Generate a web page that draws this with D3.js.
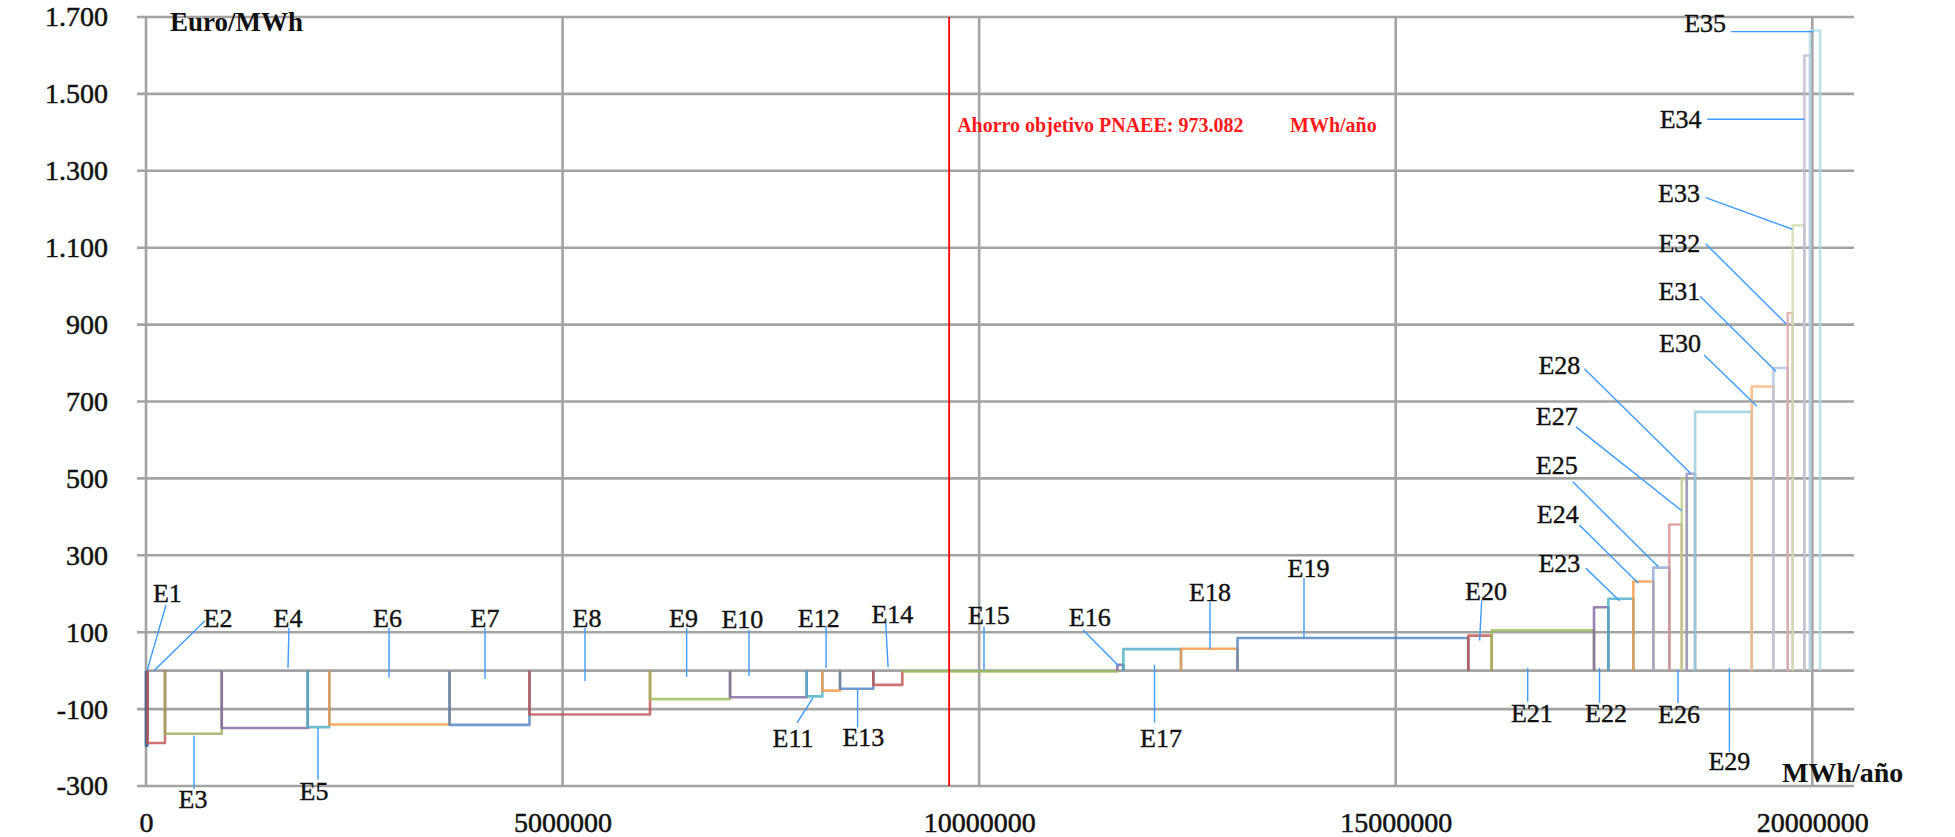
<!DOCTYPE html>
<html><head><meta charset="utf-8">
<script src="https://cdn.jsdelivr.net/npm/d3@7"></script>
<style>body{margin:0;background:#fff;overflow:hidden} svg{display:block}</style>
</head><body><svg id="c" width="1955" height="837"></svg>
<script>
// ---------- data ----------
const labels = ["E1","E2","E3","E4","E5","E6","E7","E8","E9","E10","E11","E12","E13","E14","E15","E16","E17","E18","E19","E20","E21","E22","E23","E24","E25","E26","E27","E28","E29","E30","E31","E32","E33","E34","E35"];
// ahorro (MWh/año) de cada medida = ancho del escalón
const savings = [18000,210000,681000,1032000,259000,1443000,960000,1446500,960500,920000,188000,212000,400000,348000,2581000,72000,692000,678000,2770000,281000,1228000,172000,300000,240000,192000,149000,60000,100000,680000,260000,172000,60000,140000,68000,120000];
// coste (Euro/MWh) = altura del escalón
const costs = [-195,-188,-164,-149,-147,-140,-141,-114,-74,-69,-67,-52,-47,-37,-2,15,56,57,85,91,105,165,187,232,268,380,498,512,673,739,787,930,1158,1600,1665];
const colors = ["#2C5A93","#C0504D","#9BAA59","#8064A2","#4BACC6","#F79646",
                "#4F81BD","#C0504D","#9BBB59","#8064A2","#4BACC6","#F79646",
                "#4F81BD","#C0504D","#9BBB59","#8064A2","#4BACC6","#F79646",
                "#4F81BD","#C0504D","#9BBB59","#8064A2","#4BACC6","#F79646",
                "#8EA6D4","#D98F8D","#B9CF8A","#9A8FBF","#93CDDD","#F9B27A",
                "#B0C2E2","#DFA7A6","#CFDFB0","#C2B6D6","#AED8E3"];
const yTicks = [1700,1500,1300,1100,900,700,500,300,100,-100,-300];
const yTickLabels = ["1.700","1.500","1.300","1.100","900","700","500","300","100","-100","-300"];
const xTicks = [0,5000000,10000000,15000000,20000000];
const xTickLabels = ["0","5000000","10000000","15000000","20000000"];
const target = 9640000;
const targetText = "Ahorro objetivo PNAEE: 973.082";
const targetUnit = "MWh/año";
const yTitle = "Euro/MWh";
const xTitle = "MWh/año";
// etiquetas: [texto, xEtiqueta, yEtiqueta, xInicio, yInicio, xAncla, yAncla] (unidades de datos)
const annotations = [
 ["E1",257000,203,240000,171,16000,2],
 ["E2",864000,137,708000,130,96000,0],
 ["E3",564000,-333,576000,-308,576000,-169],
 ["E4",1704000,137,1716000,111,1704000,7],
 ["E5",2016000,-313,2064000,-284,2064000,-149],
 ["E6",2899000,137,2917000,111,2917000,-18],
 ["E7",4069000,137,4069000,111,4069000,-22],
 ["E8",5293000,137,5269000,111,5269000,-27],
 ["E9",6452000,137,6489000,111,6489000,-16],
 ["E10",7158000,134,7237000,105,7237000,-14],
 ["E11",7766000,-175,7814000,-136,8006000,-70],
 ["E12",8075000,138,8163000,116,8163000,7],
 ["E13",8611000,-173,8541000,-147,8541000,-50],
 ["E14",8959000,147,8879000,124,8907000,9],
 ["E15",10117000,145,10058000,114,10058000,2],
 ["E16",11327000,140,11247000,106,11676000,12],
 ["E17",12183000,-176,12105000,-135,12105000,15],
 ["E18",12771000,205,12771000,179,12771000,56],
 ["E19",13953000,267,13899000,241,13899000,85],
 ["E20",16084000,207,16032000,183,16007000,78],
 ["E21",16634000,-110,16584000,-81,16584000,7],
 ["E22",17524000,-111,17446000,-84,17446000,7],
 ["E23",16964000,279,17284000,266,17686000,182],
 ["E24",16945000,407,17204000,379,17912000,227],
 ["E25",16933000,534,17125000,491,18152000,270],
 ["E26",18400000,-113,18388000,-84,18388000,2],
 ["E27",16933000,662,17164000,634,18433000,416],
 ["E28",16964000,795,17264000,785,18541000,513],
 ["E29",19005000,-236,19005000,-211,19005000,7],
 ["E30",18412000,852,18701000,821,19333000,688],
 ["E31",18404000,987,18653000,974,19565000,778],
 ["E32",18404000,1112,18721000,1110,19685000,902],
 ["E33",18400000,1242,18721000,1230,19761000,1148],
 ["E34",18420000,1435,18740000,1434,19905000,1434],
 ["E35",18713000,1684,19022000,1662,20014000,1662]
];

// ---------- layout ----------
const svg = d3.select("#c");
const x = d3.scaleLinear().domain([0, 20000000]).range([146, 1812.3]);
const y = d3.scaleLinear().domain([-300, 1700]).range([786, 17]);
const gridLeft = 137, gridRight = 1854;
const serif = "'Liberation Serif','DejaVu Serif',serif";
const gridColor = "#a3a3a3";

// horizontal gridlines (+ zero line)
svg.append("g").selectAll("line").data(yTicks.concat([0])).join("line")
  .attr("x1", d => d === 0 ? x(0) : gridLeft).attr("x2", gridRight)
  .attr("y1", d => y(d)).attr("y2", d => y(d))
  .attr("stroke", gridColor).attr("stroke-width", 2.6);
// vertical gridlines
svg.append("g").selectAll("line").data(xTicks).join("line")
  .attr("x1", d => x(d)).attr("x2", d => x(d))
  .attr("y1", y(1700)).attr("y2", y(-300))
  .attr("stroke", gridColor).attr("stroke-width", 2.6);

// y tick labels via axis
const yAxis = d3.axisLeft(y).tickValues(yTicks)
  .tickFormat((d,i) => yTickLabels[i]).tickSize(0).tickPadding(38);
const gy = svg.append("g").attr("transform", `translate(${x(0)},0)`).call(yAxis);
gy.select(".domain").remove();
gy.selectAll("text").attr("font-family", serif).attr("font-size", 28).attr("fill", "#111")
  .attr("stroke", "#111").attr("stroke-width", 0.5);

// x tick labels via axis
const xAxis = d3.axisBottom(x).tickValues(xTicks)
  .tickFormat((d,i) => xTickLabels[i]).tickSize(0).tickPadding(0);
const gx = svg.append("g").attr("transform", `translate(0,${812})`).call(xAxis);
gx.select(".domain").remove();
gx.selectAll("text").attr("font-family", serif).attr("font-size", 28).attr("fill", "#111")
  .attr("stroke", "#111").attr("stroke-width", 0.5)
  .attr("dy", "0.71em");

// steps
const starts = [0].concat(Array.from(d3.cumsum(savings)));
const line = d3.line().x(d => x(d[0])).y(d => y(d[1]));
svg.append("g").selectAll("path").data(costs).join("path")
  .attr("d", (v,i) => line([[starts[i],0],[starts[i],v],[starts[i+1],v],[starts[i+1],0]]))
  .attr("fill", "none").attr("stroke", (v,i) => colors[i])
  .attr("stroke-width", 2.6).attr("stroke-opacity", 0.8)
  .attr("stroke-linejoin", "round");

// target line
svg.append("line").attr("x1", x(target)).attr("x2", x(target))
  .attr("y1", y(1700)).attr("y2", y(-300))
  .attr("stroke", "#ff0000").attr("stroke-width", 1.8);
svg.append("text").attr("x", x(target) + 8).attr("y", 132)
  .attr("font-family", serif).attr("font-weight", "bold").attr("font-size", 20)
  .attr("fill", "#ff1a1a").text(targetText);
svg.append("text").attr("x", 1290).attr("y", 132)
  .attr("font-family", serif).attr("font-weight", "bold").attr("font-size", 20)
  .attr("fill", "#ff1a1a").text(targetUnit);

// axis titles
svg.append("text").attr("x", 170).attr("y", 31)
  .attr("font-family", serif).attr("font-weight", "bold").attr("font-size", 27)
  .attr("fill", "#111").text(yTitle);
svg.append("text").attr("x", 1782).attr("y", 782)
  .attr("font-family", serif).attr("font-weight", "bold").attr("font-size", 28)
  .attr("fill", "#111").text(xTitle);

// annotations
const ga = svg.append("g");
ga.selectAll("line").data(annotations).join("line")
  .attr("x1", d => x(d[3])).attr("y1", d => y(d[4]))
  .attr("x2", d => x(d[5])).attr("y2", d => y(d[6]))
  .attr("stroke", "#3f9bff").attr("stroke-width", 1.4);
ga.selectAll("text").data(annotations).join("text")
  .attr("x", d => x(d[1])).attr("y", d => y(d[2])).attr("dy", "0.35em")
  .attr("text-anchor", "middle")
  .attr("font-family", serif).attr("font-size", 26).attr("fill", "#111")
  .attr("stroke", "#111").attr("stroke-width", 0.4)
  .text(d => d[0]);
</script>
</body></html>
